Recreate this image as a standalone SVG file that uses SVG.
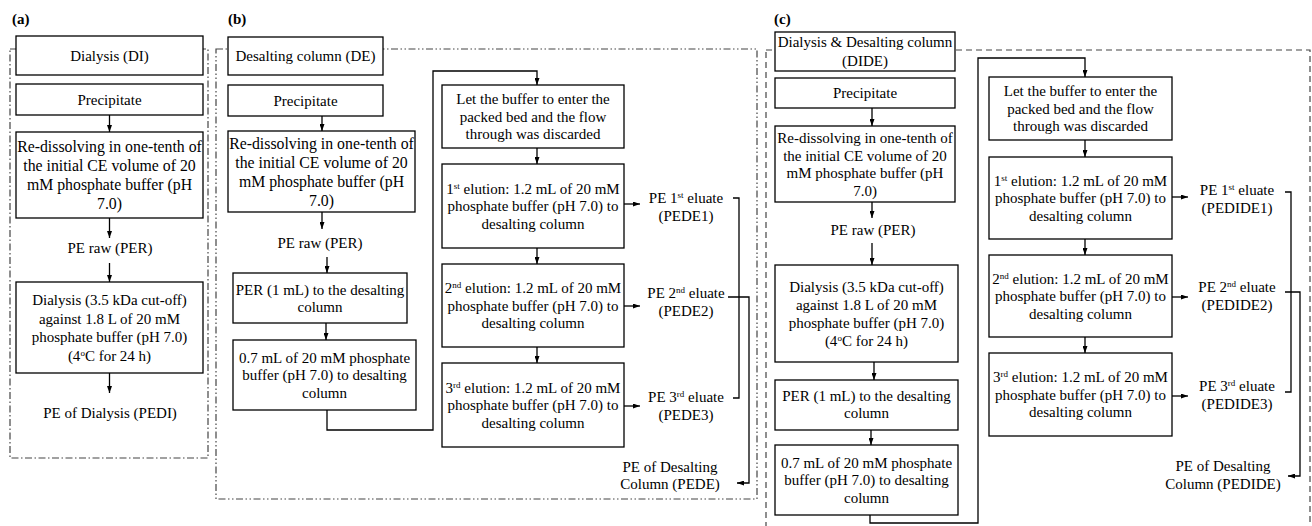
<svg xmlns="http://www.w3.org/2000/svg" width="1312" height="526" viewBox="0 0 1312 526">
<defs>
<style>
.box{fill:#fff;stroke:#000;stroke-width:1.3}
.t{font-family:"Liberation Serif","Times New Roman",serif;font-size:15px;fill:#000;text-anchor:middle}
.big{font-size:15.8px}
.lab{font-family:"Liberation Serif","Times New Roman",serif;font-size:15px;font-weight:bold;fill:#000}
.con{fill:none;stroke:#000;stroke-width:1.3}
.arr{marker-end:url(#ah)}
.brd{fill:none;stroke:#444;stroke-width:1.2}
.bA{stroke-dasharray:7 2.5 1.5 2.5}
.bB{stroke-dasharray:7 2.5 1.5 2.5 1.5 2.5}
.bC{stroke-dasharray:6 4}
</style>
<marker id="ah" viewBox="0 0 7 5" refX="7" refY="2.5" markerWidth="7" markerHeight="5" markerUnits="userSpaceOnUse" orient="auto">
<path d="M0,0 L7,2.5 L0,5 z" fill="#000"/>
</marker>
</defs>
<rect width="1312" height="526" fill="#fff"/>

<g id="labels">
<text class="lab" x="12" y="24">(a)</text>
<text class="lab" x="228" y="24">(b)</text>
<text class="lab" x="774" y="24">(c)</text>
</g>

<g id="borders">
<rect class="brd bA" x="10" y="49" width="198" height="409"/>
<rect class="brd bB" x="216" y="49" width="541" height="450"/>
<rect class="brd bC" x="766" y="50" width="544" height="490"/>
</g>

<g id="connectors">
<path class="con arr" d="M109.5,115 V132"/>
<path class="con arr" d="M109.5,218 V238"/>
<path class="con arr" d="M109.5,263 V282"/>
<path class="con arr" d="M109.5,373 V393"/>

<path class="con arr" d="M322,116 V131"/>
<path class="con arr" d="M322,212 V229"/>
<path class="con arr" d="M327,257 V273"/>
<path class="con arr" d="M326,323 V340"/>
<path class="con arr" d="M327,410 V430 H433 V71 H537 V85"/>
<path class="con arr" d="M537,148 V164"/>
<path class="con arr" d="M537,248 V264"/>
<path class="con arr" d="M537,347 V363"/>
<path class="con arr" d="M624,204 H640"/>
<path class="con arr" d="M624,306 H640"/>
<path class="con arr" d="M624,406 H640"/>
<path class="con" d="M733,198 H739 V398 H733"/>
<path class="con arr" d="M728,297 H749 V483 H737"/>

<path class="con arr" d="M872,108 V126"/>
<path class="con arr" d="M872,202 V218"/>
<path class="con arr" d="M872,243 V265"/>
<path class="con arr" d="M874,362 V380"/>
<path class="con arr" d="M871,430 V445"/>
<path class="con arr" d="M870,515 V523 H978 V58 H1085 V77"/>
<path class="con arr" d="M1085,140 V157"/>
<path class="con arr" d="M1085,239 V255"/>
<path class="con arr" d="M1085,337 V353"/>
<path class="con arr" d="M1172,197 H1188"/>
<path class="con arr" d="M1172,297 H1188"/>
<path class="con arr" d="M1172,396 H1188"/>
<path class="con" d="M1285,192 H1291 V392 H1285"/>
<path class="con arr" d="M1285,292 H1300 V476 H1288"/>
</g>

<!-- Panel a -->
<g id="a-di"><rect class="box" x="16" y="36" width="187" height="39"/><text class="t" x="109.5" y="61">Dialysis (DI)</text></g>
<g id="a-precip"><rect class="box" x="16" y="84" width="187" height="31"/><text class="t" x="109.5" y="105">Precipitate</text></g>
<g id="a-redissolve"><rect class="box" x="16" y="132" width="187" height="86"/>
<text class="t big"><tspan x="109.5" y="152">Re-dissolving in one-tenth of</tspan><tspan x="109.5" y="171">the initial CE volume of 20</tspan><tspan x="109.5" y="190">mM phosphate buffer (pH</tspan><tspan x="109.5" y="209">7.0)</tspan></text></g>
<g id="a-per"><text class="t" x="110" y="253">PE raw (PER)</text></g>
<g id="a-dialysis"><rect class="box" x="16" y="282" width="187" height="91"/>
<text class="t"><tspan x="109.5" y="305">Dialysis (3.5 kDa cut-off)</tspan><tspan x="109.5" y="323.5">against 1.8 L of 20 mM</tspan><tspan x="109.5" y="342">phosphate buffer (pH 7.0)</tspan><tspan x="109.5" y="360.5">(4<tspan font-size="9" baseline-shift="super">o</tspan>C for 24 h)</tspan></text></g>
<g id="a-pedi"><text class="t" x="110" y="418">PE of Dialysis (PEDI)</text></g>

<!-- Panel b -->
<g id="b-de"><rect class="box" x="228" y="37" width="155" height="38"/><text class="t" x="305.5" y="61">Desalting column (DE)</text></g>
<g id="b-precip"><rect class="box" x="228" y="85" width="155" height="31"/><text class="t" x="305.5" y="106">Precipitate</text></g>
<g id="b-redissolve"><rect class="box" x="228" y="131" width="187" height="81"/>
<text class="t big"><tspan x="321.5" y="148.5">Re-dissolving in one-tenth of</tspan><tspan x="321.5" y="167.5">the initial CE volume of 20</tspan><tspan x="321.5" y="186.5">mM phosphate buffer (pH</tspan><tspan x="321.5" y="205.5">7.0)</tspan></text></g>
<g id="b-per"><text class="t" x="320" y="248">PE raw (PER)</text></g>
<g id="b-per1"><rect class="box" x="233" y="273" width="174" height="50"/>
<text class="t"><tspan x="320" y="294.5">PER (1 mL) to the desalting</tspan><tspan x="320" y="312">column</tspan></text></g>
<g id="b-buf"><rect class="box" x="233" y="340" width="183" height="70"/>
<text class="t"><tspan x="324.5" y="362.5">0.7 mL of 20 mM phosphate</tspan><tspan x="324.5" y="380">buffer (pH 7.0) to desalting</tspan><tspan x="324.5" y="397.5">column</tspan></text></g>
<g id="b-let"><rect class="box" x="442" y="85" width="182" height="63"/>
<text class="t"><tspan x="533" y="104">Let the buffer to enter the</tspan><tspan x="533" y="121.5">packed bed and the flow</tspan><tspan x="533" y="139">through was discarded</tspan></text></g>
<g id="b-el1"><rect class="box" x="442" y="164" width="182" height="84"/>
<text class="t"><tspan x="533" y="193.5">1<tspan font-size="9" baseline-shift="super">st</tspan> elution: 1.2 mL of 20 mM</tspan><tspan x="533" y="211">phosphate buffer (pH 7.0) to</tspan><tspan x="533" y="228.5">desalting column</tspan></text></g>
<g id="b-el2"><rect class="box" x="442" y="264" width="182" height="83"/>
<text class="t"><tspan x="533" y="293">2<tspan font-size="9" baseline-shift="super">nd</tspan> elution: 1.2 mL of 20 mM</tspan><tspan x="533" y="310.5">phosphate buffer (pH 7.0) to</tspan><tspan x="533" y="328">desalting column</tspan></text></g>
<g id="b-el3"><rect class="box" x="442" y="363" width="182" height="84"/>
<text class="t"><tspan x="533" y="392.5">3<tspan font-size="9" baseline-shift="super">rd</tspan> elution: 1.2 mL of 20 mM</tspan><tspan x="533" y="410">phosphate buffer (pH 7.0) to</tspan><tspan x="533" y="427.5">desalting column</tspan></text></g>
<g id="b-pede1"><text class="t"><tspan x="686" y="203">PE 1<tspan font-size="9" baseline-shift="super">st</tspan> eluate</tspan><tspan x="686" y="220.5">(PEDE1)</tspan></text></g>
<g id="b-pede2"><text class="t"><tspan x="686" y="298">PE 2<tspan font-size="9" baseline-shift="super">nd</tspan> eluate</tspan><tspan x="686" y="315.5">(PEDE2)</tspan></text></g>
<g id="b-pede3"><text class="t"><tspan x="686" y="402">PE 3<tspan font-size="9" baseline-shift="super">rd</tspan> eluate</tspan><tspan x="686" y="419.5">(PEDE3)</tspan></text></g>
<g id="b-pede"><text class="t"><tspan x="670" y="472">PE of Desalting</tspan><tspan x="670" y="489">Column (PEDE)</tspan></text></g>

<!-- Panel c -->
<g id="c-dide"><rect class="box" x="775" y="32" width="180" height="39"/>
<text class="t"><tspan x="865" y="47">Dialysis &amp; Desalting column</tspan><tspan x="865" y="65.5">(DIDE)</tspan></text></g>
<g id="c-precip"><rect class="box" x="775" y="78" width="180" height="30"/><text class="t" x="865" y="98">Precipitate</text></g>
<g id="c-redissolve"><rect class="box" x="775" y="126" width="180" height="76"/>
<text class="t"><tspan x="865" y="143">Re-dissolving in one-tenth of</tspan><tspan x="865" y="160.5">the initial CE volume of 20</tspan><tspan x="865" y="178">mM phosphate buffer (pH</tspan><tspan x="865" y="195.5">7.0)</tspan></text></g>
<g id="c-per"><text class="t" x="873" y="235">PE raw (PER)</text></g>
<g id="c-dialysis"><rect class="box" x="775" y="265" width="183" height="97"/>
<text class="t"><tspan x="866.5" y="292">Dialysis (3.5 kDa cut-off)</tspan><tspan x="866.5" y="310">against 1.8 L of 20 mM</tspan><tspan x="866.5" y="328">phosphate buffer (pH 7.0)</tspan><tspan x="866.5" y="346">(4<tspan font-size="9" baseline-shift="super">o</tspan>C for 24 h)</tspan></text></g>
<g id="c-per1"><rect class="box" x="775" y="380" width="183" height="50"/>
<text class="t"><tspan x="866.5" y="400.5">PER (1 mL) to the desalting</tspan><tspan x="866.5" y="418">column</tspan></text></g>
<g id="c-buf"><rect class="box" x="775" y="445" width="183" height="70"/>
<text class="t"><tspan x="866.5" y="467.5">0.7 mL of 20 mM phosphate</tspan><tspan x="866.5" y="485">buffer (pH 7.0) to desalting</tspan><tspan x="866.5" y="502.5">column</tspan></text></g>
<g id="c-let"><rect class="box" x="989" y="77" width="183" height="63"/>
<text class="t"><tspan x="1080.5" y="96">Let the buffer to enter the</tspan><tspan x="1080.5" y="113.5">packed bed and the flow</tspan><tspan x="1080.5" y="131">through was discarded</tspan></text></g>
<g id="c-el1"><rect class="box" x="989" y="157" width="183" height="82"/>
<text class="t"><tspan x="1080.5" y="185.5">1<tspan font-size="9" baseline-shift="super">st</tspan> elution: 1.2 mL of 20 mM</tspan><tspan x="1080.5" y="203">phosphate buffer (pH 7.0) to</tspan><tspan x="1080.5" y="220.5">desalting column</tspan></text></g>
<g id="c-el2"><rect class="box" x="989" y="255" width="183" height="82"/>
<text class="t"><tspan x="1080.5" y="283.5">2<tspan font-size="9" baseline-shift="super">nd</tspan> elution: 1.2 mL of 20 mM</tspan><tspan x="1080.5" y="301">phosphate buffer (pH 7.0) to</tspan><tspan x="1080.5" y="318.5">desalting column</tspan></text></g>
<g id="c-el3"><rect class="box" x="989" y="353" width="183" height="83"/>
<text class="t"><tspan x="1080.5" y="382">3<tspan font-size="9" baseline-shift="super">rd</tspan> elution: 1.2 mL of 20 mM</tspan><tspan x="1080.5" y="399.5">phosphate buffer (pH 7.0) to</tspan><tspan x="1080.5" y="417">desalting column</tspan></text></g>
<g id="c-pedide1"><text class="t"><tspan x="1237" y="195">PE 1<tspan font-size="9" baseline-shift="super">st</tspan> eluate</tspan><tspan x="1237" y="212.5">(PEDIDE1)</tspan></text></g>
<g id="c-pedide2"><text class="t"><tspan x="1237" y="292">PE 2<tspan font-size="9" baseline-shift="super">nd</tspan> eluate</tspan><tspan x="1237" y="309.5">(PEDIDE2)</tspan></text></g>
<g id="c-pedide3"><text class="t"><tspan x="1237" y="391">PE 3<tspan font-size="9" baseline-shift="super">rd</tspan> eluate</tspan><tspan x="1237" y="408.5">(PEDIDE3)</tspan></text></g>
<g id="c-pedide"><text class="t"><tspan x="1223" y="471">PE of Desalting</tspan><tspan x="1223" y="489">Column (PEDIDE)</tspan></text></g>
</svg>
